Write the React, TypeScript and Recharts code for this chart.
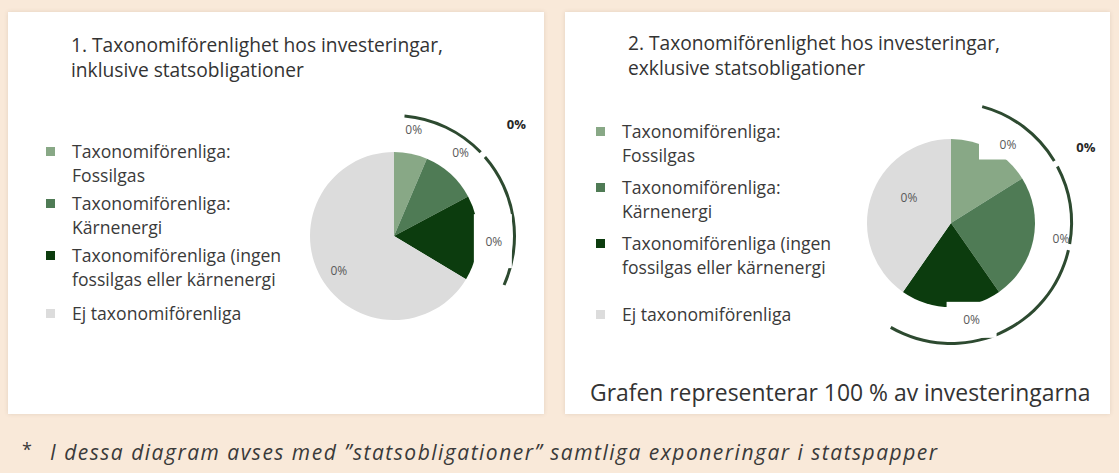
import { PieChart, Pie, Cell } from 'recharts';

// legend categories, one array entry per line of text
const CATEGORIES = [
  ['Taxonomiförenliga:', 'Fossilgas'],
  ['Taxonomiförenliga:', 'Kärnenergi'],
  ['Taxonomiförenliga (ingen', 'fossilgas eller kärnenergi'],
  ['Ej taxonomiförenliga'],
];
const COLORS = ['#88a886', '#4f7b55', '#0c3c0e', '#dcdcdc'];

// 1. inklusive statsobligationer
const INCL_VALUES = [6.4, 10.8, 16.4, 66.4];
const INCL_LABELS = ['0%', '0%', '0%', '0%'];
const INCL_TOTAL = '0%';
const INCL_RING = [41, 65];

// 2. exklusive statsobligationer
const EXCL_VALUES = [16.1, 24.2, 19.4, 40.3];
const EXCL_LABELS = ['0%', '0%', '0%', '0%'];
const EXCL_TOTAL = '0%';
const EXCL_RING = [44, 38, 107];

const FOOTER = 'Grafen representerar 100 % av investeringarna';
const NOTE = 'I dessa diagram avses med \u201Dstatsobligationer\u201D samtliga exponeringar i statspapper';

const FONT = '"Open Sans", "Noto Sans", sans-serif';
const RAD = Math.PI / 180;
const PIE_R = 84;
const RING_IN = 119;
const RING_OUT = 122;

const toRows = (values: number[]) => values.map((v, i) => ({ name: CATEGORIES[i].join(' '), value: v }));
const toRing = (values: number[]) => values.map((v, i) => ({ name: `seg${i}`, value: v }));

// label placement: [radius, angle shift, white box (dx, dy, w, h) or none]
type LabelPos = [number, number, number[] | null];

function sliceLabel(texts: string[], pos: LabelPos[]) {
  return (p: any) => {
    const [r, shift, box] = pos[p.index];
    const a = (p.midAngle - shift) * RAD;
    const x = p.cx + r * Math.cos(-a);
    const y = p.cy + r * Math.sin(-a);
    return (
      <g key={`l${p.index}`}>
        {box && <rect x={x + box[0]} y={y + box[1]} width={box[2]} height={box[3]} fill="#fff" />}
        <text x={x} y={y} textAnchor="middle" dominantBaseline="central" fontSize={12} fill="#595959" fontFamily={FONT}>
          {texts[p.index]}
        </text>
      </g>
    );
  };
}

function totalLabel(text: string, r: number) {
  return (p: any) => {
    if (p.index !== 0) return null;
    const a = (p.endAngle - 1.5) * RAD;
    const x = p.cx + r * Math.cos(-a);
    const y = p.cy + r * Math.sin(-a);
    return (
      <text key="total" x={x} y={y} textAnchor="middle" dominantBaseline="central" fontSize={13} fontWeight="bold" fill="#262626" fontFamily={FONT}>
        {text}
      </text>
    );
  };
}

interface PanelProps {
  left: number;
  top: number;
  width: number;
  height: number;
  title: string[];
  titleLeft: number;
  titleTop: number;
  values: number[];
  labels: string[];
  labelPos: LabelPos[];
  total: string;
  totalR: number;
  ring: number[];
  ringStart: number;
  ringEnd: number;
  cx: number;
  cy: number;
  legendLeft: number;
  legendTops: number[];
  footer?: string;
}

function Panel(p: PanelProps) {
  return (
    <div
      style={{
        position: 'absolute',
        left: p.left,
        top: p.top,
        width: p.width,
        height: p.height,
        background: '#fff',
        boxShadow: '0 0 4px rgba(120,100,80,0.18)',
        fontFamily: FONT,
        color: '#3a3a3a',
      }}
    >
      <div style={{ position: 'absolute', left: p.titleLeft, top: p.titleTop, fontSize: 19.2, lineHeight: '25px', color: '#333', whiteSpace: 'nowrap' }}>
        {p.title.map((t) => (
          <div key={t}>{t}</div>
        ))}
      </div>
      {CATEGORIES.map((lines, i) => (
        <div key={i} style={{ position: 'absolute', left: p.legendLeft, top: p.legendTops[i] - 12, fontSize: 17.6, lineHeight: '24px' }}>
          <div style={{ position: 'absolute', left: -26, top: 8, width: 9, height: 9, background: COLORS[i] }} />
          {lines.map((l) => (
            <div key={l} style={{ whiteSpace: 'nowrap' }}>{l}</div>
          ))}
        </div>
      ))}
      <PieChart width={p.width} height={p.height} style={{ position: 'absolute', left: 0, top: 0 }}>
        <Pie
          data={toRows(p.values)}
          dataKey="value"
          cx={p.cx}
          cy={p.cy}
          outerRadius={PIE_R}
          startAngle={90}
          endAngle={-270}
          stroke="none"
          labelLine={false}
          label={sliceLabel(p.labels, p.labelPos)}
          isAnimationActive={false}
        >
          {p.values.map((_, i) => (
            <Cell key={i} fill={COLORS[i]} />
          ))}
        </Pie>
        <Pie
          data={toRing(p.ring)}
          dataKey="value"
          cx={p.cx}
          cy={p.cy}
          innerRadius={RING_IN}
          outerRadius={RING_OUT}
          startAngle={90 - p.ringStart}
          endAngle={90 - p.ringEnd}
          paddingAngle={3}
          stroke="none"
          fill="#2d4a30"
          labelLine={false}
          label={totalLabel(p.total, p.totalR)}
          isAnimationActive={false}
        />
      </PieChart>
      {p.footer && (
        <div style={{ position: 'absolute', left: 25, top: p.height - 35, fontSize: 22.9, lineHeight: '28px', color: '#333', whiteSpace: 'nowrap' }}>
          {p.footer}
        </div>
      )}
    </div>
  );
}

export default function App() {
  return (
    <div style={{ position: 'absolute', left: 0, top: 0, width: 1119, height: 473, background: '#f9e9d9', overflow: 'hidden' }}>
      <Panel
        left={8}
        top={12}
        width={536}
        height={402}
        title={['1. Taxonomiförenlighet hos investeringar,', 'inklusive statsobligationer']}
        titleLeft={63}
        titleTop={20}
        values={INCL_VALUES}
        labels={INCL_LABELS}
        labelPos={[
          [108, -1, null],
          [107, -4, null],
          [100, 1.5, [-20, -27, 38, 54]],
          [65, -2.5, null],
        ]}
        total={INCL_TOTAL}
        totalR={166}
        ring={INCL_RING}
        ringStart={5}
        ringEnd={114}
        cx={381}
        cy={219}
        legendLeft={64}
        legendTops={[139, 191, 243, 301]}
      />
      <Panel
        left={565}
        top={12}
        width={545}
        height={402}
        title={['2. Taxonomiförenlighet hos investeringar,', 'exklusive statsobligationer']}
        titleLeft={63}
        titleTop={18}
        values={EXCL_VALUES}
        labels={EXCL_LABELS}
        labelPos={[
          [97, 7, [-29, -16, 42, 31]],
          [111, -3.7, null],
          [99, -12, [-25, -18, 50, 36]],
          [49, 13.5, null],
        ]}
        total={EXCL_TOTAL}
        totalR={155}
        ring={EXCL_RING}
        ringStart={15}
        ringEnd={210}
        cx={381}
        cy={206}
        legendLeft={57}
        legendTops={[119, 175, 231, 302]}
        footer={FOOTER}
      />
      <div
        style={{
          position: 'absolute',
          left: 22,
          top: 439,
          fontFamily: FONT,
          fontStyle: 'italic',
          fontWeight: 500,
          fontSize: 21,
          letterSpacing: '1.5px',
          lineHeight: '26px',
          color: '#3a3a3a',
          whiteSpace: 'nowrap',
        }}
      >
        <span style={{ position: 'absolute', left: 0, top: -3, fontStyle: 'normal', fontSize: 18 }}>*</span>
        <span style={{ position: 'absolute', left: 28, top: 0 }}>{NOTE}</span>
      </div>
    </div>
  );
}
